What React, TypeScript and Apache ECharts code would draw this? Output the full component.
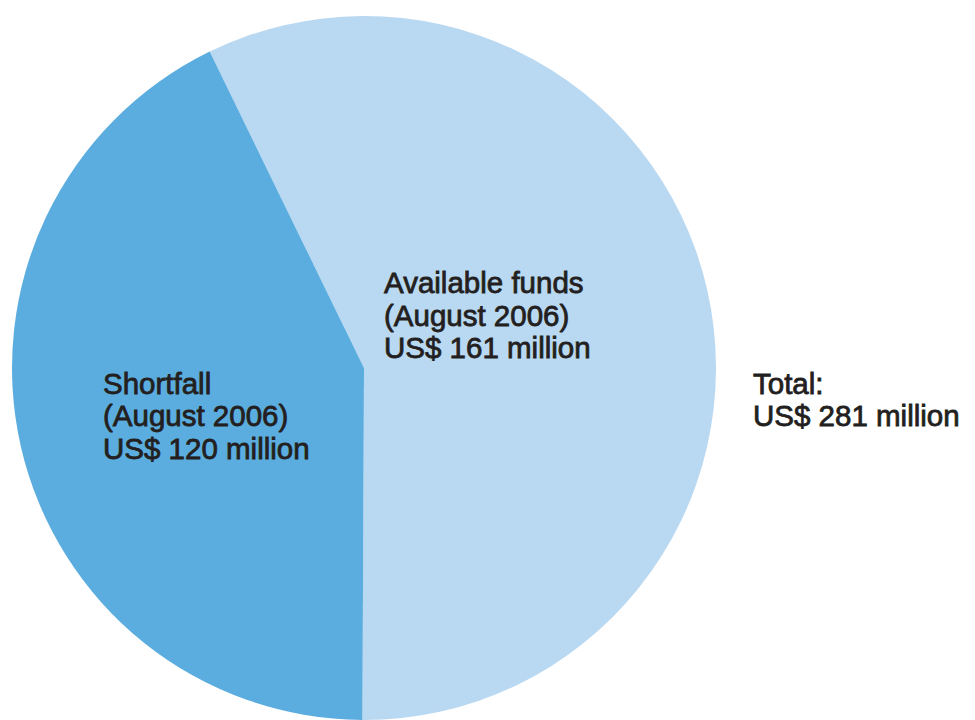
import React, { useEffect, useRef } from "react";
import * as echarts from "echarts";

const categories = ["Available funds", "Shortfall"];
const periods = ["(August 2006)", "(August 2006)"];
const values = [161, 120];
const total = 281;
const colors = ["#b9d8f1", "#5baddf"];

export default function App() {
  const ref = useRef<HTMLDivElement>(null);
  useEffect(() => {
    if (!ref.current) return;
    const chart = echarts.init(ref.current, null, { renderer: "svg" });
    const font = "'Liberation Sans', Arial, Helvetica, sans-serif";
    const fs = 29.5;
    const txt = (s: string, x: number, baseline: number) => ({
      type: "text",
      x,
      y: baseline - 10,
      style: {
        text: s,
        fontSize: fs,
        fontFamily: font,
        fill: "#231f20",
        stroke: "#231f20",
        lineWidth: 0.8,
        verticalAlign: "middle",
        align: "left",
      },
      z: 10,
    });
    const lines: any[] = [
      txt(categories[0], 384, 292),
      txt(periods[0], 384, 325),
      txt(`US$ ${values[0]} million`, 384, 357),
      txt(categories[1], 103, 393),
      txt(periods[1], 103, 425),
      txt(`US$ ${values[1]} million`, 103, 458),
      txt("Total:", 753, 393),
      txt(`US$ ${total} million`, 753, 425),
    ];
    chart.setOption({
      animation: false,
      backgroundColor: "#ffffff",
      series: [
        {
          type: "pie",
          center: [364, 368],
          radius: [0, 352],
          startAngle: 116,
          clockwise: true,
          label: { show: false },
          labelLine: { show: false },
          emphasis: { disabled: true },
          itemStyle: { borderWidth: 0 },
          data: categories.map((c, i) => ({
            name: c,
            value: values[i],
            itemStyle: { color: colors[i] },
          })),
        },
      ],
      graphic: lines,
    });
    return () => chart.dispose();
  }, []);
  return (
    <div
      ref={ref}
      style={{ position: "fixed", left: 0, top: 0, width: 975, height: 720 }}
    />
  );
}
